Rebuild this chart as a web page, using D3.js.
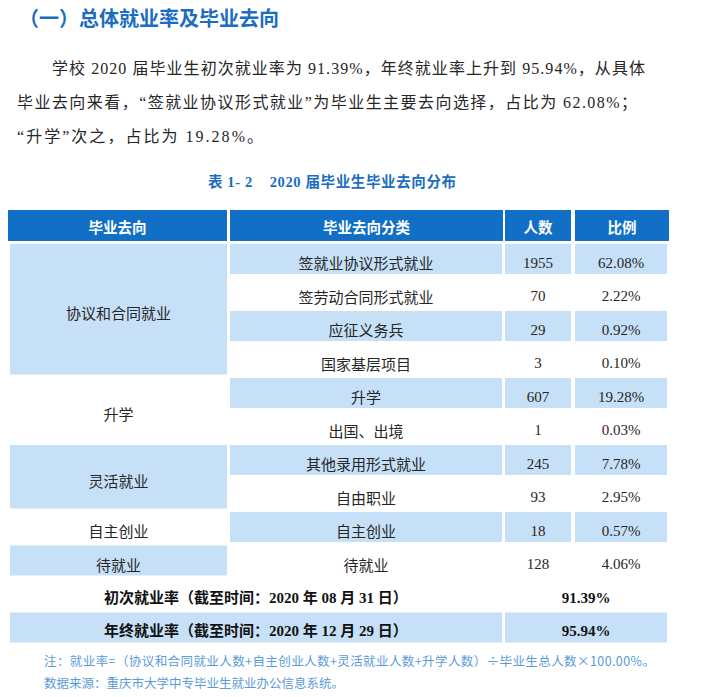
<!DOCTYPE html>
<html><head><meta charset="utf-8">
<script src="https://cdn.jsdelivr.net/npm/d3@7"></script>
<style>body{margin:0;background:#fff}svg{display:block}</style>
</head><body>
<script>
const sectionTitle = "（一）总体就业率及毕业去向";
const paragraphLines = [
  "学校 2020 届毕业生初次就业率为 91.39%，年终就业率上升到 95.94%，从具体",
  "毕业去向来看，“签就业协议形式就业”为毕业生主要去向选择，占比为 62.08%；",
  "“升学”次之，占比为 19.28%。"
];
const tableCaption = "表 1- 2    2020 届毕业生毕业去向分布";
const headers = ["毕业去向", "毕业去向分类", "人数", "比例"];
const groups = ["协议和合同就业", "升学", "灵活就业", "自主创业", "待就业"];
const groupSpans = [4, 2, 2, 1, 1];
const categories = ["签就业协议形式就业", "签劳动合同形式就业", "应征义务兵", "国家基层项目", "升学", "出国、出境", "其他录用形式就业", "自由职业", "自主创业", "待就业"];
const counts = [1955, 70, 29, 3, 607, 1, 245, 93, 18, 128];
const ratios = ["62.08%", "2.22%", "0.92%", "0.10%", "19.28%", "0.03%", "7.78%", "2.95%", "0.57%", "4.06%"];
const summaryLabels = ["初次就业率（截至时间：2020 年 08 月 31 日）", "年终就业率（截至时间：2020 年 12 月 29 日）"];
const summaryValues = ["91.39%", "95.94%"];
const notes = [
  "注：就业率=（协议和合同就业人数+自主创业人数+灵活就业人数+升学人数）÷毕业生总人数×100.00%。",
  "数据来源：重庆市大学中专毕业生就业办公信息系统。"
];

const W = 704, H = 697;
const DARK = "#1170c6", LIGHT = "#c6e0f8", TITLE = "#1a6dbf", NOTE = "#5b9bd8", INK = "#262626";
const SERIF = "'Liberation Serif','Noto Sans CJK SC',serif";
const SANS = "'Noto Sans CJK SC','Noto Sans',sans-serif";

const svg = d3.select("body").append("svg").attr("width", W).attr("height", H);

// Title
svg.append("text").attr("x", 19).attr("y", 17).attr("dominant-baseline", "central")
  .attr("font-family", SANS).attr("font-weight", "bold").attr("font-size", 20)
  .attr("fill", TITLE).text(sectionTitle);

// Paragraph
const paraX = [52, 17, 17], paraEnd = [645, 637, 263], paraY = [68, 102, 136];
paragraphLines.forEach((t, i) => {
  svg.append("text").attr("x", paraX[i]).attr("y", paraY[i])
    .attr("dominant-baseline", "central").attr("font-family", SERIF)
    .attr("font-size", 16).attr("fill", INK)
    .attr("textLength", paraEnd[i] - paraX[i]).attr("lengthAdjust", "spacing").text(t);
});

// Caption
svg.append("text").attr("x", 208).attr("y", 182)
  .attr("dominant-baseline", "central").attr("font-family", SERIF).attr("font-weight", "bold")
  .attr("font-size", 14.5).attr("fill", TITLE).style("white-space", "pre")
  .attr("textLength", 248).attr("lengthAdjust", "spacing").text(tableCaption);

// Column geometry
const colX = [[10, 227], [230, 502], [505, 571], [575, 667]];
const headX = [[8, 227], [230, 503], [505, 571], [575, 669]];

// Row scale
const rowCount = categories.length + summaryLabels.length;
const y = d3.scaleLinear().domain([0, rowCount]).range([244, 244 + rowCount * 33.5]);
const fillH = 30, textDy = 3.5;

// Header
const hg = svg.append("g");
headers.forEach((h, i) => {
  hg.append("rect").attr("x", headX[i][0]).attr("y", 210).attr("width", headX[i][1] - headX[i][0])
    .attr("height", 31).attr("fill", DARK);
  hg.append("text").attr("x", (headX[i][0] + headX[i][1]) / 2).attr("y", 226)
    .attr("text-anchor", "middle").attr("dominant-baseline", "central")
    .attr("font-family", SANS).attr("font-weight", "bold").attr("font-size", 14.5)
    .attr("fill", "#fff").text(h);
});

// Group column (merged cells)
let start = 0;
const gg = svg.append("g");
groups.forEach((g, i) => {
  const s = start, n = groupSpans[i];
  start += n;
  const y0 = y(s), y1 = y(s + n) - (y(1) - y(0) - fillH);
  if (i % 2 === 0) gg.append("rect").attr("x", colX[0][0]).attr("y", y0)
    .attr("width", colX[0][1] - colX[0][0]).attr("height", y1 - y0).attr("fill", LIGHT);
  gg.append("text").attr("x", (colX[0][0] + colX[0][1]) / 2).attr("y", (y0 + y1) / 2 + textDy)
    .attr("text-anchor", "middle").attr("dominant-baseline", "central")
    .attr("font-family", SANS).attr("font-size", 15).attr("fill", INK).text(g);
});

// Detail rows
const rows = categories.map((c, i) => ({c, n: counts[i], r: ratios[i], i}));
const rg = svg.append("g").selectAll("g").data(rows).join("g");
[1, 2, 3].forEach(ci => {
  rg.filter(d => d.i % 2 === 0).append("rect").attr("x", colX[ci][0]).attr("y", d => y(d.i))
    .attr("width", colX[ci][1] - colX[ci][0]).attr("height", fillH).attr("fill", LIGHT);
});
const cell = (ci, fn, fam) => rg.append("text").attr("x", (colX[ci][0] + colX[ci][1]) / 2)
  .attr("y", d => y(d.i) + fillH / 2 + textDy).attr("text-anchor", "middle")
  .attr("dominant-baseline", "central").attr("font-family", fam).attr("font-size", 15)
  .attr("fill", INK).text(fn);
cell(1, d => d.c, SANS);
cell(2, d => d.n, SERIF);
cell(3, d => d.r, SERIF);

// Summary rows
summaryLabels.forEach((lab, k) => {
  const ri = categories.length + k;
  if (ri % 2 === 1) {
    svg.append("rect").attr("x", colX[0][0]).attr("y", y(ri)).attr("width", colX[1][1] - colX[0][0])
      .attr("height", fillH).attr("fill", LIGHT);
    svg.append("rect").attr("x", colX[2][0]).attr("y", y(ri)).attr("width", colX[3][1] - colX[2][0])
      .attr("height", fillH).attr("fill", LIGHT);
  }
  svg.append("text").attr("x", (colX[0][0] + colX[1][1]) / 2).attr("y", y(ri) + fillH / 2 + textDy)
    .attr("text-anchor", "middle").attr("dominant-baseline", "central")
    .attr("font-family", SERIF).attr("font-weight", "bold").attr("font-size", 15)
    .attr("fill", "#111").text(lab);
  svg.append("text").attr("x", (colX[2][0] + colX[3][1]) / 2).attr("y", y(ri) + fillH / 2 + textDy)
    .attr("text-anchor", "middle").attr("dominant-baseline", "central")
    .attr("font-family", SERIF).attr("font-weight", "bold").attr("font-size", 15)
    .attr("fill", "#111").text(summaryValues[k]);
});

// Notes
const noteY = [660, 682], noteEnd = [655, null];
notes.forEach((t, i) => {
  const el = svg.append("text").attr("x", 44).attr("y", noteY[i]).attr("dominant-baseline", "central")
    .attr("font-family", SANS).attr("font-size", 12.5).attr("fill", NOTE).text(t);
  if (noteEnd[i]) el.attr("textLength", noteEnd[i] - 44).attr("lengthAdjust", "spacing");
});
</script>
</body></html>
